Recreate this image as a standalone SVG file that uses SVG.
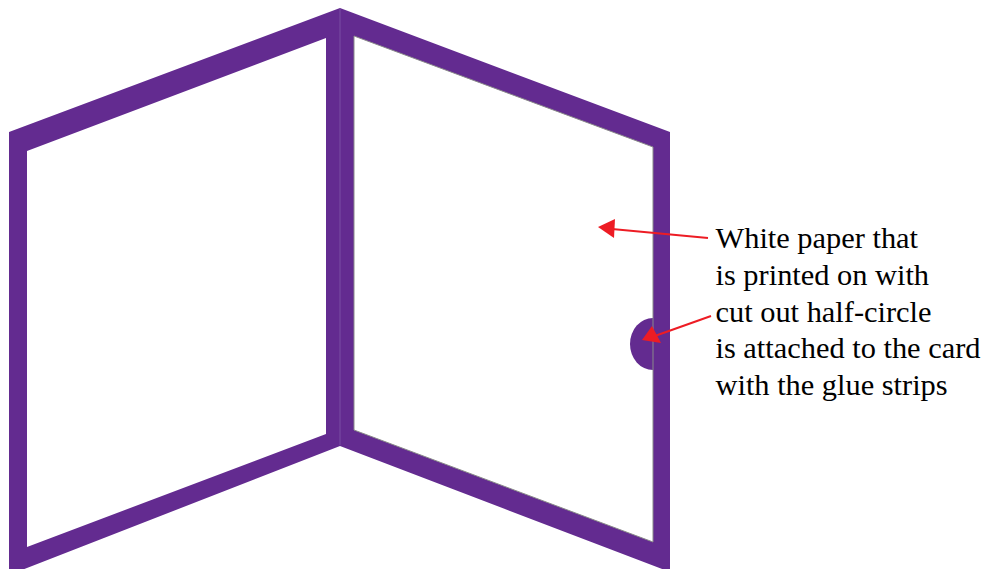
<svg xmlns="http://www.w3.org/2000/svg" width="985" height="569" viewBox="0 0 985 569">
<style>
.card{fill:#632b90;fill-rule:evenodd}
.edge{fill:none;stroke:#8a8a8a;stroke-width:1}
.fold{fill:none;stroke:#7a4ea3;stroke-width:1}
.arrow{fill:none;stroke:#ed1c24;stroke-width:2}
.head{fill:#ed1c24}
text{font-family:"Liberation Serif","Times New Roman",serif;font-size:30.4px;fill:#000}
</style>
<rect width="985" height="569" fill="#fff"/>
<g id="tab">
<path class="card" d="M653 318A23 26 0 0 0 653 370Z"/>
</g>
<g id="left-panel">
<path class="card" d="M340 8L9 132V575L340 446ZM326 38L27 151V547L326 434Z"/>
</g>
<g id="right-panel">
<path class="card" d="M340 8L670 132V572L340 446ZM354 36L653 147V542L354 430Z"/>
<path class="edge" d="M354 36L653 147V542L354 430Z"/>
<path class="fold" d="M340 9V445"/>
</g>
<g id="connectors">
<path class="arrow" d="M708 238L612 229"/>
<path class="head" d="M598 227L615 219L614 238Z"/>
<path class="arrow" d="M711 316L652 337"/>
<path class="head" d="M642 340L652 326L661 343Z"/>
</g>
<g id="label">
<text x="715.5" y="248">White paper that</text>
<text x="715.5" y="285">is printed on with</text>
<text x="715.5" y="322">cut out half-circle</text>
<text x="715.5" y="358">is attached to the card</text>
<text x="715.5" y="395">with the glue strips</text>
</g>
</svg>
